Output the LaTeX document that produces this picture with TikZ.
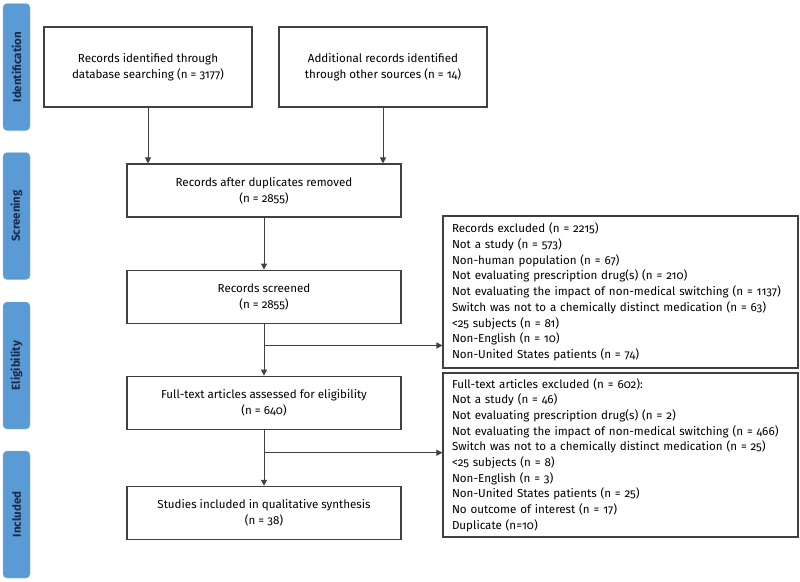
\documentclass[tikz,border=0pt]{standalone}
\usepackage{fontspec}
\setmainfont{Fira Sans}[Numbers=OldStyle]
\usepackage{xcolor}
\usetikzlibrary{arrows.meta,positioning,calc}
\definecolor{phaseblue}{RGB}{91,155,213}
\definecolor{phasetext}{RGB}{28,42,74}
\definecolor{boxline}{RGB}{64,64,64}

\begin{document}
\begin{tikzpicture}[
  x=1pt, y=-1pt,
  node distance=52pt,
  phase/.style={rotate=90, fill=phaseblue, draw=phaseblue!70!white, rounded corners=4pt, minimum width=127pt, minimum height=27pt, inner sep=0pt, text=phasetext, font=\fontsize{11.5}{13}\selectfont\bfseries},
  record/.style={draw=boxline, line width=1.1pt, minimum width=274pt, minimum height=53pt, align=center, font=\fontsize{11.6}{16}\selectfont},
  excluded/.style={draw=boxline, line width=1.1pt, align=left, text width=337pt, inner xsep=9pt, inner ysep=4pt, font=\fontsize{11.6}{15.7}\selectfont},
  flow/.style={-{Triangle[length=6pt,width=6pt]}, draw=boxline, line width=0.9pt}
]
  \useasboundingbox (0,0) rectangle (800,581);

  \node[phase] (ident) at (16.5,67) {Identification};
  \node[phase] (screen) at (16.5,216) {Screening};
  \node[phase] (elig) at (16.5,365.5) {Eligibility};
  \node[phase] (incl) at (16.5,514.5) {Included};

  \node[record, minimum width=208pt, minimum height=80pt] (database) at (148,67) {Records identified through\\database searching (n = 3177)};
  \node[record, minimum width=208pt, minimum height=80pt] (other) at (383,67) {Additional records identified\\through other sources (n = 14)};
  \node[record] (dedup) at (264,190.5) {Records after duplicates removed\\(n = 2855)};
  \node[record, below=of dedup] (screened) {Records screened\\(n = 2855)};
  \node[record, below=of screened] (fulltext) {Full-text articles assessed for eligibility\\(n = 640)};
  \node[record, below=56pt of fulltext] (included) {Studies included in qualitative synthesis\\(n = 38)};

  \node[excluded, minimum height=152pt] (recexcl) at (620.5,292) {Records excluded (n = 2215)\\Not a study (n = 573)\\Non-human population (n = 67)\\Not evaluating prescription drug(s) (n = 210)\\Not evaluating the impact of non-medical switching (n = 1137)\\Switch was not to a chemically distinct medication (n = 63)\\<25 subjects (n = 81)\\Non-English (n = 10)\\Non-United States patients (n = 74)};
  \node[excluded, minimum height=164pt] (ftexcl) at (620.5,455) {Full-text articles excluded (n = 602):\\Not a study (n = 46)\\Not evaluating prescription drug(s) (n = 2)\\Not evaluating the impact of non-medical switching (n = 466)\\Switch was not to a chemically distinct medication (n = 25)\\<25 subjects (n = 8)\\Non-English (n = 3)\\Non-United States patients (n = 25)\\No outcome of interest (n = 17)\\Duplicate (n=10)};

  \draw[flow] (database) -- (database |- dedup.north);
  \draw[flow] (other) -- (other |- dedup.north);
  \draw[flow] (dedup) -- (screened);
  \draw[flow] (screened) -- (fulltext);
  \draw[flow] (fulltext) -- (included);

  \coordinate (split1) at ($(screened.south)!0.42!(fulltext.north)$);
  \draw[flow] (split1) -- (split1 -| recexcl.west);
  \coordinate (split2) at ($(fulltext.south)!0.41!(included.north)$);
  \draw[flow] (split2) -- (split2 -| ftexcl.west);
\end{tikzpicture}
\end{document}
